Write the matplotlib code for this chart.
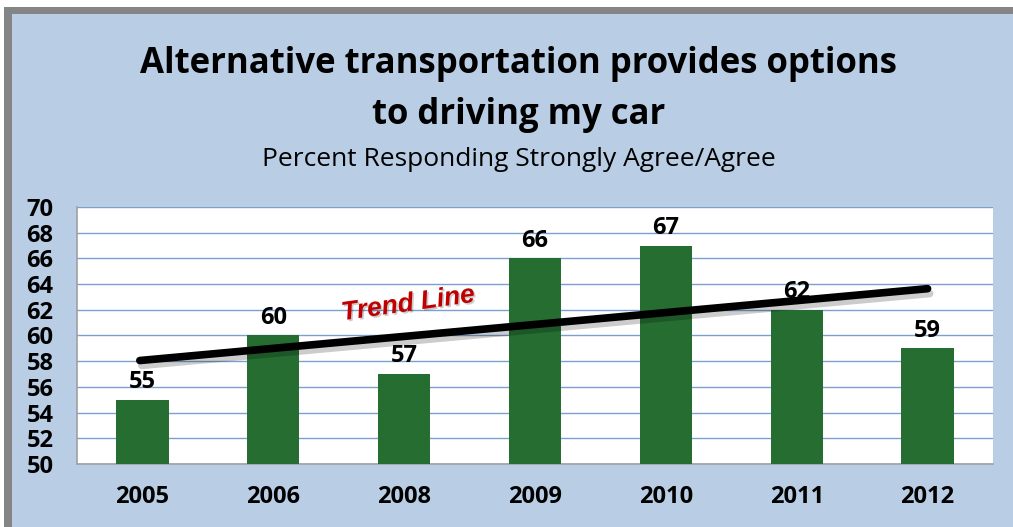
import numpy as np
import matplotlib
matplotlib.use("Agg")
import matplotlib.pyplot as plt
import matplotlib.patheffects as pe
from matplotlib.patches import Rectangle

years = ["2005", "2006", "2008", "2009", "2010", "2011", "2012"]
values = [55, 60, 57, 66, 67, 62, 59]
yticks = [50, 52, 54, 56, 58, 60, 62, 64, 66, 68, 70]

W, H = 1013, 527
fig = plt.figure(figsize=(W / 100, H / 100), dpi=100)
fig.patch.set_facecolor("white")

def fx(px):
    return px / W

def fy(py):
    return 1 - py / H

# gray border strips and blue background
fig.patches.append(Rectangle((fx(4), 0), fx(1013 - 4), fy(7), transform=fig.transFigure,
                             facecolor="#858585", edgecolor="none", zorder=-10))
fig.patches.append(Rectangle((fx(12), 0), fx(1013 - 12), fy(14), transform=fig.transFigure,
                             facecolor="#b9cde4", edgecolor="none", zorder=-9))

ax = fig.add_axes([fx(77), fy(464), fx(993 - 77), (464 - 207) / H])
ax.set_zorder(5)
ax.set_facecolor("white")

x = np.arange(len(years))
ax.bar(x, values, width=0.4, color="#256d31", zorder=3)
ax.set_ylim(50, 70)
ax.set_xlim(-0.5, len(years) - 0.5)
ax.set_yticks(yticks)
ax.set_xticks(x)
ax.set_xticklabels(years)
for lab in ax.get_xticklabels() + ax.get_yticklabels():
    lab.set_fontweight("bold")
    lab.set_fontsize(17)
    lab.set_fontfamily("Open Sans")
ax.tick_params(axis="both", length=0)
ax.tick_params(axis="x", pad=15)
ax.tick_params(axis="y", pad=17)
ax.grid(axis="y", color="#7b9fcf", linewidth=1.0, zorder=1)
ax.set_axisbelow(True)
for s in ["top", "right"]:
    ax.spines[s].set_visible(False)
for s in ["left", "bottom"]:
    ax.spines[s].set_color("#a0a0a0")
    ax.spines[s].set_linewidth(1.2)

for xi, v in zip(x, values):
    ax.annotate(str(v), (xi, v), xytext=(0, 4), textcoords="offset points",
                ha="center", va="bottom", fontsize=17, fontweight="bold",
                fontfamily="Open Sans", zorder=5)

# linear trend line
coef = np.polyfit(x, values, 1)
tx = np.array([x[0] - 0.02, x[-1]])
ty = np.polyval(coef, tx)
ax.plot(tx, ty, color="black", linewidth=5.5, solid_capstyle="round", zorder=6,
        path_effects=[pe.SimpleLineShadow(offset=(1.5, -3.5), shadow_color="#000000", alpha=0.2),
                      pe.Normal()])

ax.text(2.03, 62.45, "Trend Line", color="#c00000", fontsize=19, fontweight="bold",
        fontstyle="italic", fontfamily="Liberation Sans", rotation=8,
        ha="center", va="center", zorder=7,
        path_effects=[pe.withSimplePatchShadow(offset=(1.2, -1.2), shadow_rgbFace="#000000", alpha=0.2)])

fig.text(fx(519), fy(64), "Alternative transportation provides options", ha="center",
         va="center", fontsize=25, fontweight="bold", fontfamily="Open Sans")
fig.text(fx(519), fy(115), "to driving my car", ha="center", va="center",
         fontsize=25, fontweight="bold", fontfamily="Open Sans")
fig.text(fx(519), fy(160), "Percent Responding Strongly Agree/Agree", ha="center",
         va="center", fontsize=19, fontfamily="Open Sans")

fig.savefig("out.png", dpi=100, facecolor=fig.get_facecolor())
